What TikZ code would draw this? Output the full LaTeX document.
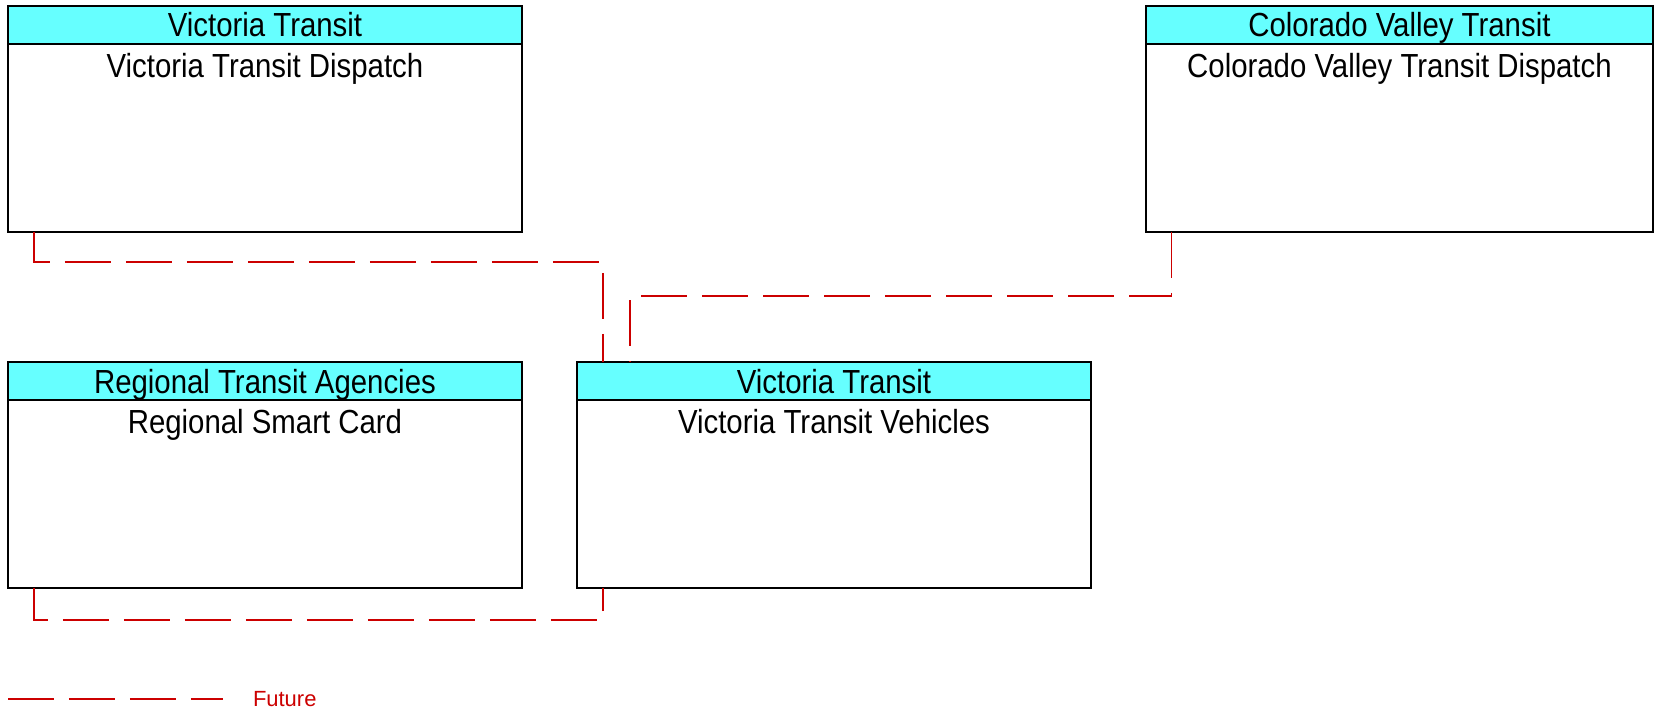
\documentclass[tikz,border=0pt]{standalone}
\usepackage{fontspec}
\newfontfamily\boxfont[FakeStretch=0.88]{Liberation Sans}
\newfontfamily\legfont{Liberation Sans}
\usetikzlibrary{positioning}
\definecolor{hdrcyan}{RGB}{102,255,255}
\definecolor{futred}{RGB}{204,0,0}

\begin{document}
\begin{tikzpicture}[
      x=0.02cm, y=-0.02cm,
      every node/.style={inner sep=0pt, outer sep=0pt},
      elem/.style={
        draw, line width=1.1pt, anchor=north west,
        minimum width=10.28cm, minimum height=4.52cm
      },
      hdr/.style={
        draw, line width=1.1pt, fill=hdrcyan, anchor=north west,
        minimum width=10.28cm, minimum height=0.76cm,
        font=\boxfont\fontsize{19}{22}\selectfont,
        text height=0.48cm, text depth=0pt
      },
      ttl/.style={anchor=base, font=\boxfont\fontsize{19}{22}\selectfont},
      future/.style={draw=futred, line width=0.7pt, dash pattern=on 0.92cm off 0.3cm}
    ]
    \useasboundingbox (0,0) rectangle (1654,714);

    % elements
    \node[elem] (vtd) at (8,6) {};
    \node[hdr] (vtd-h) at (8,6) {Victoria Transit};
    \node[ttl] (vtd-t) at ([yshift=-0.67cm]vtd-h.south) {Victoria Transit Dispatch};

    \node[elem, minimum width=10.14cm] (cvt) at (1146,6) {};
    \node[hdr, minimum width=10.14cm] (cvt-h) at (1146,6) {Colorado Valley Transit};
    \node[ttl] (cvt-t) at ([yshift=-0.67cm]cvt-h.south) {Colorado Valley Transit Dispatch};

    \node[elem] (rsc) at (8,362) {};
    \node[hdr] (rsc-h) at (8,362) {Regional Transit Agencies};
    \node[ttl] (rsc-t) at ([yshift=-0.67cm]rsc-h.south) {Regional Smart Card};

    \node[elem] (vtv) at (577,362) {};
    \node[hdr] (vtv-h) at (577,362) {Victoria Transit};
    \node[ttl] (vtv-t) at ([yshift=-0.67cm]vtv-h.south) {Victoria Transit Vehicles};

    % flows
    \draw[future] ([xshift=0.52cm]vtd.south west) -- ++(0,30) -| ([xshift=0.52cm]vtv-h.north west);
    \draw[future] ([xshift=0.51cm]cvt.south west) -- ++(0,64) -| ([xshift=1.06cm]vtv-h.north west);
    \draw[future] ([xshift=0.52cm]rsc.south west) -- ++(0,32) -| ([xshift=0.52cm]vtv.south west);

    % legend
    \coordinate (leg-a) at (8,699);
    \coordinate (leg-b) at (223,699);
    \draw[future] (leg-a) -- (leg-b);
    \node[anchor=west, text=futred, font=\legfont\fontsize{12.5}{15}\selectfont] (leg-t) at (253,699.5) {Future};
  \end{tikzpicture}
\end{document}
